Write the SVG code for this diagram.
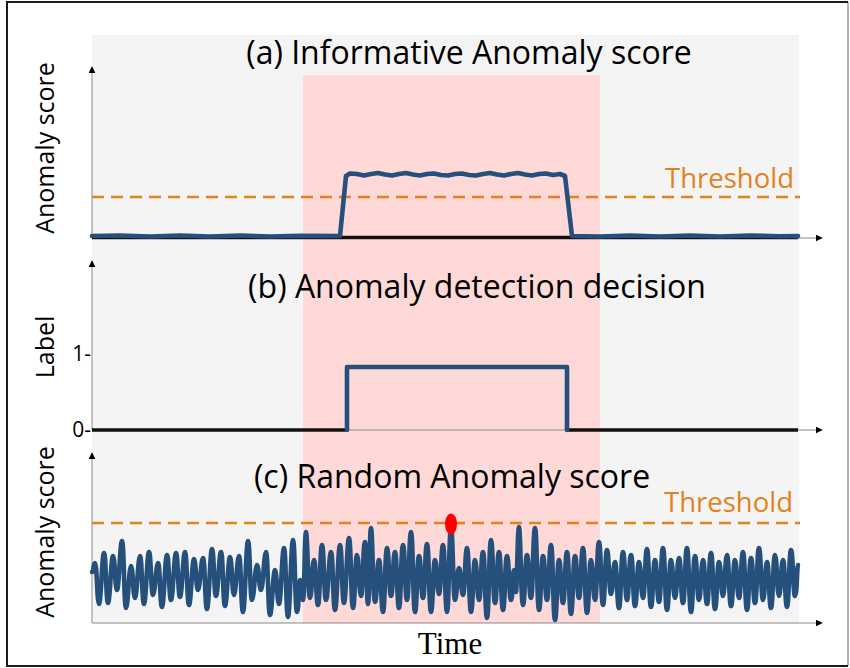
<svg xmlns="http://www.w3.org/2000/svg" width="850" height="668" viewBox="0 0 850 668">
  <defs>
    <marker id="arr" viewBox="0 0 10 10" refX="9" refY="5" markerWidth="7" markerHeight="7" markerUnits="userSpaceOnUse" orient="auto">
      <path d="M0,0 L10,5 L0,10 z" fill="#000"/>
    </marker>
    <style>
      .axis{stroke:#8a8a8a;stroke-width:1;fill:none;marker-end:url(#arr)}
      .title{font-family:"Open Sans","Noto Sans",sans-serif;font-size:32px;fill:#000;text-anchor:middle}
      .ylab{font-family:"Open Sans","Noto Sans",sans-serif;font-size:25px;fill:#000;text-anchor:middle}
      .tick{font-family:"Open Sans","Noto Sans",sans-serif;font-size:21px;fill:#000;text-anchor:end}
      .thr{font-family:"Open Sans","Noto Sans",sans-serif;font-size:27.5px;fill:#E2821F;text-anchor:end}
      .dash{stroke:#E2821F;stroke-width:2.5;stroke-dasharray:12 7;fill:none}
      .sig{stroke:#24507B;stroke-width:4.6;fill:none;stroke-linejoin:round;stroke-linecap:round}
      .base{stroke:#111;stroke-width:3.5;fill:none}
    </style>
  </defs>
  <rect x="0" y="0" width="850" height="668" fill="#fff"/>
  <g id="frame">
    <path d="M848,2 L848,666" stroke="#9a9a9a" stroke-width="1.5"/>
    <path d="M848,2 L7,2 L7,666 L848,666" stroke="#1a1a1a" stroke-width="2" fill="none"/>
  </g>
  <g id="background">
    <rect x="92" y="35" width="707" height="588" fill="#f4f4f4"/>
    <rect x="303" y="75" width="297" height="548" fill="#ffd8d8"/>
  </g>

  <g id="connectors">
    <path class="axis" d="M92,238 L92,67"/>
    <path class="axis" d="M92,238 L822,238"/>
    <path class="axis" d="M92,430 L92,261"/>
    <path class="axis" d="M92,430 L822,430"/>
    <path class="axis" d="M92,623 L92,453"/>
    <path class="axis" d="M92,623 L822,623"/>
  </g>

  <g id="panel-a">
    <text class="title" x="469" y="64">(a) Informative Anomaly score</text>
    <text class="ylab" transform="translate(54,148) rotate(-90)">Anomaly score</text>
    <line class="dash" x1="92" y1="197" x2="800" y2="197"/>
    <text class="thr" x="794" y="188">Threshold</text>
    <line class="base" x1="92" y1="237.5" x2="798" y2="237.5"/>
    <path class="sig" d="M92,236 L120,235.5 L150,236.5 L180,235.5 L210,236.5 L240,235.5 L270,236.5 L300,235.8 L340,236 L346,176 L350,173.5 L357,174 L364,175.5 L371,174 L378,173 L385,174.5 L392,175.5 L399,174 L406,173 L413,174.5 L420,175.5 L427,174 L434,173.5 L441,175 L448,175.5 L455,174 L462,173.5 L469,175 L476,175.5 L483,174 L490,173 L497,174.5 L504,175.5 L511,174 L518,173 L525,174.5 L532,175.5 L539,174 L546,173.5 L553,175 L560,174 L565,176 L572,236 L600,236.5 L630,235.5 L660,236.5 L690,235.5 L720,236.5 L750,235.5 L780,236.3 L798,236"/>
  </g>

  <g id="panel-b">
    <text class="title" x="477" y="298">(b) Anomaly detection decision</text>
    <text class="ylab" transform="translate(54,347) rotate(-90)">Label</text>
    <text class="tick" x="91" y="361">1-</text>
    <text class="tick" x="91" y="437">0-</text>
    <line class="base" x1="92" y1="430" x2="347" y2="430"/>
    <line class="base" x1="567" y1="430" x2="798" y2="430"/>
    <path class="sig" stroke-width="4" d="M347,430 L347,367 L567,367 L567,430" stroke-linecap="square" stroke-linejoin="miter"/>
  </g>

  <g id="panel-c">
    <text class="title" x="452" y="488">(c) Random Anomaly score</text>
    <text class="ylab" transform="translate(54,532) rotate(-90)">Anomaly score</text>
    <line class="dash" x1="92" y1="523" x2="800" y2="523"/>
    <text class="thr" x="793" y="512">Threshold</text>
    <path class="sig" d="M92,572 C94,572 93,563 95,563 S97,604 99,604 S102,553 104,553 S106,603 108,603 S111,556 113,556 S115,590 117,590 S120,541 122,541 S124,608 126,608 S129,566 131,566 S133,598 135,598 S138,556 140,556 S142,604 144,604 S147,552 149,552 S151,595 153,595 S156,563 158,563 S160,607 162,607 S165,555 167,555 S169,600 171,600 S174,553 176,553 S178,597 180,597 S183,552 185,552 S187,605 189,605 S192,559 194,559 S196,590 198,590 S201,558 203,558 S205,609 207,609 S210,549 212,549 S214,596 216,596 S219,552 221,552 S223,606 225,606 S228,557 230,557 S232,595 234,595 S237,556 239,556 S241,612 243,612 S246,541 248,541 S250,600 252,600 S255,565 257,565 S259,590 261,590 S264,552 266,552 S268,615 270,615 S273,570 275,570 S277,604 279,604 S282,548 284,548 S286,617 288,617 S291,540 293,540 S295,612 297,612 S298.5,580 300,580 S301.5,600 303,600 S304.5,532 306,532 S308,598 310,598 S312,560 314,560 S316,605 318,605 S320,545 322,545 S324,600 326,600 S329,552 331,552 S333,610 335,610 S338,545 340,545 S342,603 344,603 S347,538 349,538 S351,608 353,608 S355,555 357,555 S359,596 361,596 S363,542 365,542 S366.5,604 368,604 S369.5,528 371,528 S373,602 375,602 S377,560 379,560 S381,612 383,612 S385,548 387,548 S389,596 391,596 S393,552 395,552 S397,608 399,608 S401,545 403,545 S405,600 407,600 S409,532 411,532 S413,612 415,612 S417,556 419,556 S421,598 423,598 S425,544 427,544 S429,612 431,612 S433,560 435,560 S437,594 439,594 S441,545 443,545 S445,612 447,612 S449,528 451,528 S453,600 455,600 S457,568 459,568 S461,595 463,595 S465,548 467,548 S469,612 471,612 S473,560 475,560 S477,600 479,600 S481,552 483,552 S485,618 487,618 S489,540 491,540 S493,603 495,603 S497,552 499,552 S501,610 503,610 S505,556 507,556 S509,600 511,600 S512.5,570 514,570 S515,592 516,592 S517.5,527 519,527 S521,605 523,605 S525,555 527,555 S529,598 531,598 S533,528 535,528 S537,610 539,610 S541,556 543,556 S545,600 547,600 S549,545 551,545 S553,620 555,620 S557,560 559,560 S561,603 563,603 S565,552 567,552 S569,614 571,614 S573,556 575,556 S577,598 579,598 S581,548 583,548 S585,613 587,613 S589,560 591,560 S593,600 595,600 S597,542 599,542 S601,605 603,605 S605,550 607,550 S609,594 611,594 S613,562 615,562 S617,608 619,608 S621,552 623,552 S625,600 627,600 S629,555 631,555 S633,606 635,606 S637,562 639,562 S641,598 643,598 S645,549 647,549 S649,607 651,607 S653,560 655,560 S657,602 659,602 S661,548 663,548 S665,610 667,610 S669,560 671,560 S673,598 675,598 S677,558 679,558 S681,603 683,603 S685,548 687,548 S689,612 691,612 S693,556 695,556 S697,600 699,600 S701,560 703,560 S705,604 707,604 S709,553 711,553 S713,609 715,609 S717,562 719,562 S721,596 723,596 S725,555 727,555 S729,606 731,606 S733,560 735,560 S737,598 739,598 S741,552 743,552 S745,610 747,610 S749,558 751,558 S753,603 755,603 S757,548 759,548 S761,600 763,600 S765,562 767,562 S769,608 771,608 S773,555 775,555 S777,596 779,596 S781,560 783,560 S785,607 787,607 S789,550 791,550 S793,596 795,596 S797,565 798,565"/>
    <ellipse cx="451" cy="524" rx="6" ry="10.5" fill="#ff0000"/>
  </g>

  <g id="xlabel">
    <text x="450" y="654" font-family="'Liberation Serif','Times New Roman',serif" font-size="31" text-anchor="middle">Time</text>
  </g>
</svg>
